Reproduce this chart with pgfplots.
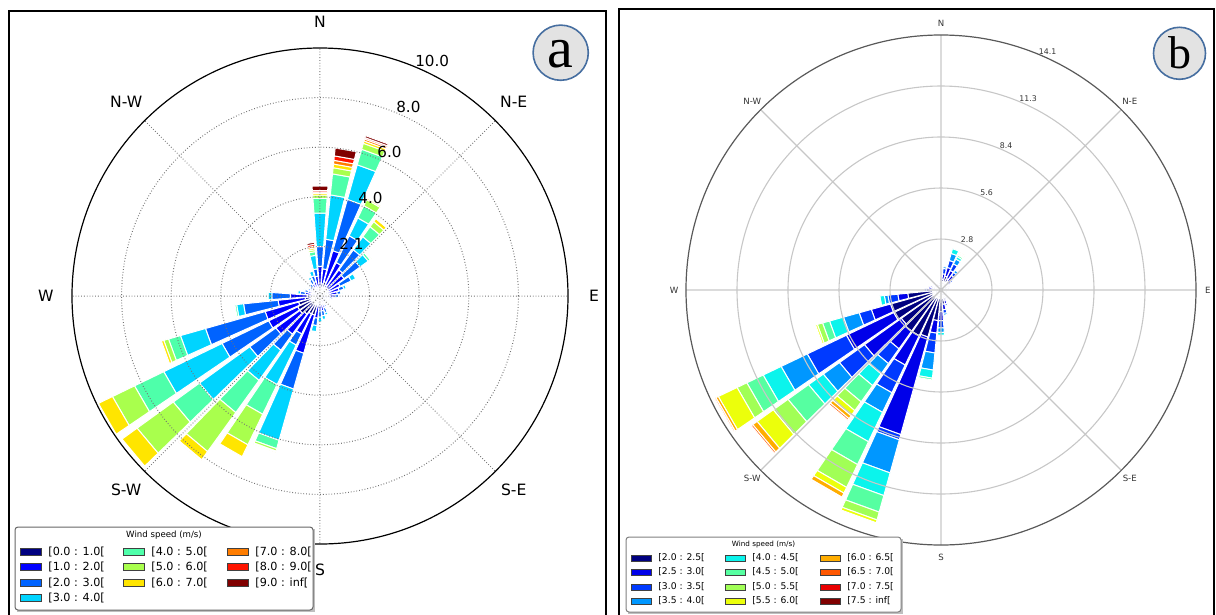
\documentclass[border=0pt]{standalone}
\usepackage{pgfplots}
\pgfplotsset{compat=1.18}
\usepackage{pgfplotstable}
\usepgfplotslibrary{polar}
\usepackage{fontspec}
\setmainfont{DejaVu Sans}
\newfontfamily\badgefont{Liberation Serif}

% jet colours, 10 bins (panel a)
\definecolor{ca0}{RGB}{0,0,128}
\definecolor{ca1}{RGB}{0,0,255}
\definecolor{ca2}{RGB}{0,99,255}
\definecolor{ca3}{RGB}{0,212,255}
\definecolor{ca4}{RGB}{78,255,170}
\definecolor{ca5}{RGB}{169,255,77}
\definecolor{ca6}{RGB}{255,229,0}
\definecolor{ca7}{RGB}{255,125,0}
\definecolor{ca8}{RGB}{255,20,0}
\definecolor{ca9}{RGB}{128,0,0}
% jet colours, 12 bins (panel b)
\definecolor{cb0}{RGB}{0,0,128}
\definecolor{cb1}{RGB}{0,0,233}
\definecolor{cb2}{RGB}{0,58,255}
\definecolor{cb3}{RGB}{0,151,255}
\definecolor{cb4}{RGB}{11,244,236}
\definecolor{cb5}{RGB}{86,255,161}
\definecolor{cb6}{RGB}{161,255,86}
\definecolor{cb7}{RGB}{236,255,11}
\definecolor{cb8}{RGB}{255,173,0}
\definecolor{cb9}{RGB}{255,87,0}
\definecolor{cb10}{RGB}{233,0,0}
\definecolor{cb11}{RGB}{128,0,0}
\definecolor{badgeedge}{RGB}{70,110,160}

% frequency (%) per speed bin, per direction (compass degrees)
\pgfplotstableread{
dir b0 b1 b2 b3 b4 b5 b6 b7 b8 b9
0   0.4 0.8 0.8 1.35 0.6 0.13 0.07 0.05 0.06 0.18
10  0.5 0.6 1.2 1.8 0.85 0.25 0.15 0.15 0.18 0.32
20  0.6 1.3 2.15 1.45 0.65 0.25 0.1 0.08 0.06 0.08
30  0.5 1.0 1.2 0.8 0.55 0.27 0.06 0 0 0
40  0.4 0.9 1.0 0.65 0.5 0.25 0.15 0.05 0 0
50  0.4 0.8 0.8 0.4 0.1 0.05 0 0 0 0
60  0.3 0.6 0.5 0.2 0 0 0 0 0 0
70  0.3 0.5 0.2 0.1 0 0 0 0 0 0
80  0.3 0.4 0.15 0.05 0 0 0 0 0 0
90  0.25 0.35 0.15 0.05 0 0 0 0 0 0
100 0.2 0.2 0.1 0 0 0 0 0 0 0
110 0.2 0.15 0.05 0 0 0 0 0 0 0
120 0.15 0.15 0.05 0 0 0 0 0 0 0
130 0.15 0.15 0.05 0 0 0 0 0 0 0
140 0.2 0.15 0.05 0 0 0 0 0 0 0
150 0.2 0.2 0.1 0 0 0 0 0 0 0
160 0.25 0.25 0.2 0.1 0 0 0 0 0 0
170 0.3 0.3 0.2 0.15 0 0 0 0 0 0
180 0.3 0.3 0.25 0.2 0 0 0 0 0 0
190 0.4 0.5 0.3 0.25 0.05 0 0 0 0 0
200 0.8 1.6 1.5 2.15 0.35 0.1 0.05 0 0 0
210 0.8 0.9 0.5 1.77 1.33 1.37 0.53 0 0 0
220 0.9 1.0 0.8 1.5 1.6 1.94 0.41 0.05 0 0
230 1.0 1.2 1.3 2.5 1.3 1.8 0.75 0 0 0
240 1.0 1.3 2.09 2.61 1.31 0.99 0.63 0 0 0
250 0.9 1.4 2.5 1.05 0.5 0.2 0.1 0 0 0
260 0.6 1.1 1.4 0.28 0.07 0 0 0 0 0
270 0.5 0.7 0.75 0.15 0.05 0 0 0 0 0
280 0.3 0.3 0.2 0.1 0 0 0 0 0 0
290 0.25 0.25 0.15 0.05 0 0 0 0 0 0
300 0.2 0.25 0.1 0.05 0 0 0 0 0 0
310 0.2 0.2 0.1 0.05 0 0 0 0 0 0
320 0.25 0.2 0.15 0.05 0 0 0 0 0 0
330 0.3 0.25 0.2 0.1 0 0 0 0 0 0
340 0.3 0.3 0.25 0.2 0.05 0 0 0 0 0
350 0.35 0.45 0.3 0.55 0.15 0.08 0.07 0.07 0.08 0.08
}\tabA

\pgfplotstableread{
dir b0 b1 b2 b3 b4 b5 b6 b7 b8 b9 b10 b11
0   0.4 0.2 0 0 0 0 0 0 0 0 0 0
10  0.6 0.3 0.3 0.1 0 0 0 0 0 0 0 0
20  0.8 0.5 0.4 0.4 0.27 0 0 0 0 0 0 0
30  0.7 0.5 0.4 0.3 0.15 0.1 0.07 0.06 0.04 0 0 0
40  0.6 0.4 0.2 0.15 0 0 0 0 0 0 0 0
50  0.5 0.2 0.1 0 0 0 0 0 0 0 0 0
60  0.4 0.15 0 0 0 0 0 0 0 0 0 0
70  0.35 0.1 0 0 0 0 0 0 0 0 0 0
80  0.3 0.1 0 0 0 0 0 0 0 0 0 0
90  0.3 0.05 0 0 0 0 0 0 0 0 0 0
100 0.3 0 0 0 0 0 0 0 0 0 0 0
110 0.3 0 0 0 0 0 0 0 0 0 0 0
120 0.3 0 0 0 0 0 0 0 0 0 0 0
130 0.35 0 0 0 0 0 0 0 0 0 0 0
140 0.4 0.1 0 0 0 0 0 0 0 0 0 0
150 0.5 0.1 0 0 0 0 0 0 0 0 0 0
160 0.6 0.2 0.1 0 0 0 0 0 0 0 0 0
170 0.8 0.3 0.2 0.1 0 0 0 0 0 0 0 0
180 1.2 0.5 0.4 0.25 0.15 0 0 0 0 0 0 0
190 1.7 0.7 1.1 0.95 0.45 0.1 0 0 0 0 0 0
200 2.7 5.6 0.3 1.9 1.3 0.95 0.45 0.16 0 0 0 0
210 2.8 1.8 1.7 1.2 1.8 1.4 1.4 0.35 0.25 0.05 0 0
220 2.8 1.2 1.0 0.7 0.8 1.1 0.6 0.35 0.2 0.1 0 0
230 2.7 2.5 1.7 1.1 1.0 1.4 1.0 1.1 0.3 0.1 0 0
240 2.9 2.9 2.4 1.6 1.1 1.0 0.6 1.15 0.15 0.08 0 0
250 2.9 1.1 0.7 0.9 0.8 0.4 0.3 0.1 0 0 0 0
260 1.85 0.55 0.55 0.2 0.25 0.03 0 0 0 0 0 0
270 0.6 0.2 0.1 0 0 0 0 0 0 0 0 0
280 0.5 0.2 0 0 0 0 0 0 0 0 0 0
290 0.5 0.1 0 0 0 0 0 0 0 0 0 0
300 0.4 0.1 0 0 0 0 0 0 0 0 0 0
310 0.4 0 0 0 0 0 0 0 0 0 0 0
320 0.35 0 0 0 0 0 0 0 0 0 0 0
330 0.35 0 0 0 0 0 0 0 0 0 0 0
340 0.35 0 0 0 0 0 0 0 0 0 0 0
350 0.35 0 0 0 0 0 0 0 0 0 0 0
}\tabB

% stacked wind-rose sectors: #1 table, #2 last bin index, #3 colour prefix, #4 half width (deg)
\newcommand\roseplots[4]{%
  \pgfplotstablegetrowsof{#1}%
  \pgfmathtruncatemacro\nrows{\pgfplotsretval-1}%
  \pgfplotsforeachungrouped \i in {0,...,\nrows}{%
    \pgfplotstablegetelem{\i}{dir}\of{#1}%
    \pgfmathsetmacro\ang{90-\pgfplotsretval}%
    \pgfmathsetmacro\aL{\ang+#4}%
    \pgfmathsetmacro\aR{\ang-#4}%
    \def\cum{0}%
    \pgfplotsforeachungrouped \k in {0,...,#2}{%
      \pgfplotstablegetelem{\i}{b\k}\of{#1}%
      \pgfmathsetmacro\inc{\pgfplotsretval}%
      \pgfmathsetmacro\nw{\cum+\inc}%
      \ifdim\inc pt>0.001pt
        \edef\tmp{\noexpand\addplot[fill=#3\k, draw=white, line width=0.5pt, line join=round]
          coordinates {(\aL,\cum) (\aR,\cum) (\aR,\nw) (\aL,\nw) (\aL,\cum)};}%
        \tmp
      \fi
      \let\cum\nw
    }%
  }%
}

\newcommand\legitem[6]{% x y colour text patchwidth patchheight
  \filldraw[fill=#3, draw=black!75, line width=0.35pt] (#1,#2-#6/2) rectangle (#1+#5,#2+#6/2);
  \node[anchor=west, inner sep=0pt] at (#1+#5+7,#2) {#4};
}

\begin{document}
\begin{tikzpicture}[x=0.5pt, y=-0.5pt]
\useasboundingbox (0,0) rectangle (1216,615);

% panel frames
\draw[line width=1pt] (9,11) rectangle (606,660);
\draw[line width=1pt] (619,9) rectangle (1214,660);

% ---------------- panel a ----------------
\begin{polaraxis}[
  at={(160pt,-148pt)}, anchor=center,
  scale only axis, width=248pt, height=248pt,
  xmin=0, xmax=360, ymin=0, ymax=10,
  xtick={0,45,...,315}, xticklabels={},
  ytick={2,4,6,8}, yticklabels={},
  grid=major,
  major grid style={densely dotted, black!55, line width=0.5pt},
  x axis line style={black, line width=0.6pt},
  y axis line style={draw=none},
  major tick length=0pt,
  axis on top, clip=false,
]
\roseplots{\tabA}{9}{ca}{4.15}
\begin{scope}[font=\fontsize{7.8}{8}\selectfont]
\node at (axis cs:90,11.05) {N};
\node at (axis cs:45,11.05) {N-E};
\node at (axis cs:0,11.05) {E};
\node at (axis cs:315,11.05) {S-E};
\node at (axis cs:270,11.05) {S};
\node at (axis cs:225,11.05) {S-W};
\node at (axis cs:180,11.05) {W};
\node at (axis cs:135,11.05) {N-W};
\end{scope}
\begin{scope}[font=\fontsize{7.6}{8}\selectfont]
\node[anchor=south west, inner sep=0pt] at (axis cs:67.5,2) {2.1};
\node[anchor=south west, inner sep=0pt] at (axis cs:67.5,4) {4.0};
\node[anchor=south west, inner sep=0pt] at (axis cs:67.5,6) {6.0};
\node[anchor=south west, inner sep=0pt] at (axis cs:67.5,8) {8.0};
\node[anchor=south west, inner sep=0pt] at (axis cs:67.5,10) {10.0};
\end{scope}
\end{polaraxis}

% ---------------- panel b ----------------
\begin{polaraxis}[
  at={(470.5pt,-145pt)}, anchor=center,
  scale only axis, width=255pt, height=255pt,
  xmin=0, xmax=360, ymin=0, ymax=14.1,
  xtick={0,45,...,315}, xticklabels={},
  ytick={2.82,5.64,8.46,11.28}, yticklabels={},
  grid=major,
  major grid style={black!22, line width=0.55pt},
  x axis line style={black!65, line width=0.6pt},
  y axis line style={draw=none},
  major tick length=0pt,
  axis on top, clip=false,
]
\roseplots{\tabB}{11}{cb}{4.45}
\begin{scope}[font=\fontsize{4.3}{5}\selectfont, text=black!80]
\node at (axis cs:90,14.76) {N};
\node at (axis cs:45,14.76) {N-E};
\node at (axis cs:0,14.76) {E};
\node at (axis cs:315,14.76) {S-E};
\node at (axis cs:270,14.76) {S};
\node at (axis cs:225,14.76) {S-W};
\node at (axis cs:180,14.76) {W};
\node at (axis cs:135,14.76) {N-W};
\end{scope}
\begin{scope}[font=\fontsize{3.9}{5}\selectfont, text=black!80]
\node[anchor=south west, inner sep=0pt] at (axis cs:67.5,2.82) {2.8};
\node[anchor=south west, inner sep=0pt] at (axis cs:67.5,5.64) {5.6};
\node[anchor=south west, inner sep=0pt] at (axis cs:67.5,8.46) {8.4};
\node[anchor=south west, inner sep=0pt] at (axis cs:67.5,11.28) {11.3};
\node[anchor=south west, inner sep=0pt] at (axis cs:67.5,14.1) {14.1};
\end{scope}
\end{polaraxis}

% badges
\draw[fill=black!11, draw=badgeedge, line width=0.8pt] (560.7,52.7) circle[radius=13.8pt];
\node[font=\badgefont\fontsize{29}{29}\selectfont, inner sep=0pt] at (560.7,54) {a};
\draw[fill=black!11, draw=badgeedge, line width=0.8pt] (1179.5,53.3) circle[radius=13pt];
\node[font=\badgefont\fontsize{23}{23}\selectfont, inner sep=0pt] at (1179.5,53) {b};

% legend a
\fill[black!25] (17,529) rectangle (315,612);
\draw[fill=white, draw=black!60, line width=0.5pt, rounded corners=1.5pt] (15,527) rectangle (313,610);
\node[font=\fontsize{4.3}{5}\selectfont] at (164,535) {Wind speed (m/s)};
\begin{scope}[font=\fontsize{5.6}{7}\selectfont]
\legitem{20}{552}{ca0}{[0.0 : 1.0[}{21}{7}
\legitem{20}{567}{ca1}{[1.0 : 2.0[}{21}{7}
\legitem{20}{583}{ca2}{[2.0 : 3.0[}{21}{7}
\legitem{20}{598}{ca3}{[3.0 : 4.0[}{21}{7}
\legitem{123}{552}{ca4}{[4.0 : 5.0[}{21}{7}
\legitem{123}{567}{ca5}{[5.0 : 6.0[}{21}{7}
\legitem{123}{583}{ca6}{[6.0 : 7.0[}{21}{7}
\legitem{227}{552}{ca7}{[7.0 : 8.0[}{21}{7}
\legitem{227}{567}{ca8}{[8.0 : 9.0[}{21}{7}
\legitem{227}{583}{ca9}{[9.0 : inf[}{21}{7}
\end{scope}

% legend b
\fill[black!25] (628,539) rectangle (903,614);
\draw[fill=white, draw=black!50, line width=0.5pt, rounded corners=1.5pt] (626,537) rectangle (901,612);
\node[font=\fontsize{3.6}{4}\selectfont] at (763.5,545) {Wind speed (m/s)};
\begin{scope}[font=\fontsize{4.6}{5.5}\selectfont]
\legitem{631}{558}{cb0}{[2.0 : 2.5[}{20}{6}
\legitem{631}{572}{cb1}{[2.5 : 3.0[}{20}{6}
\legitem{631}{587}{cb2}{[3.0 : 3.5[}{20}{6}
\legitem{631}{601}{cb3}{[3.5 : 4.0[}{20}{6}
\legitem{725}{558}{cb4}{[4.0 : 4.5[}{20}{6}
\legitem{725}{572}{cb5}{[4.5 : 5.0[}{20}{6}
\legitem{725}{587}{cb6}{[5.0 : 5.5[}{20}{6}
\legitem{725}{601}{cb7}{[5.5 : 6.0[}{20}{6}
\legitem{820}{558}{cb8}{[6.0 : 6.5[}{20}{6}
\legitem{820}{572}{cb9}{[6.5 : 7.0[}{20}{6}
\legitem{820}{587}{cb10}{[7.0 : 7.5[}{20}{6}
\legitem{820}{601}{cb11}{[7.5 : inf[}{20}{6}
\end{scope}
\end{tikzpicture}
\end{document}
